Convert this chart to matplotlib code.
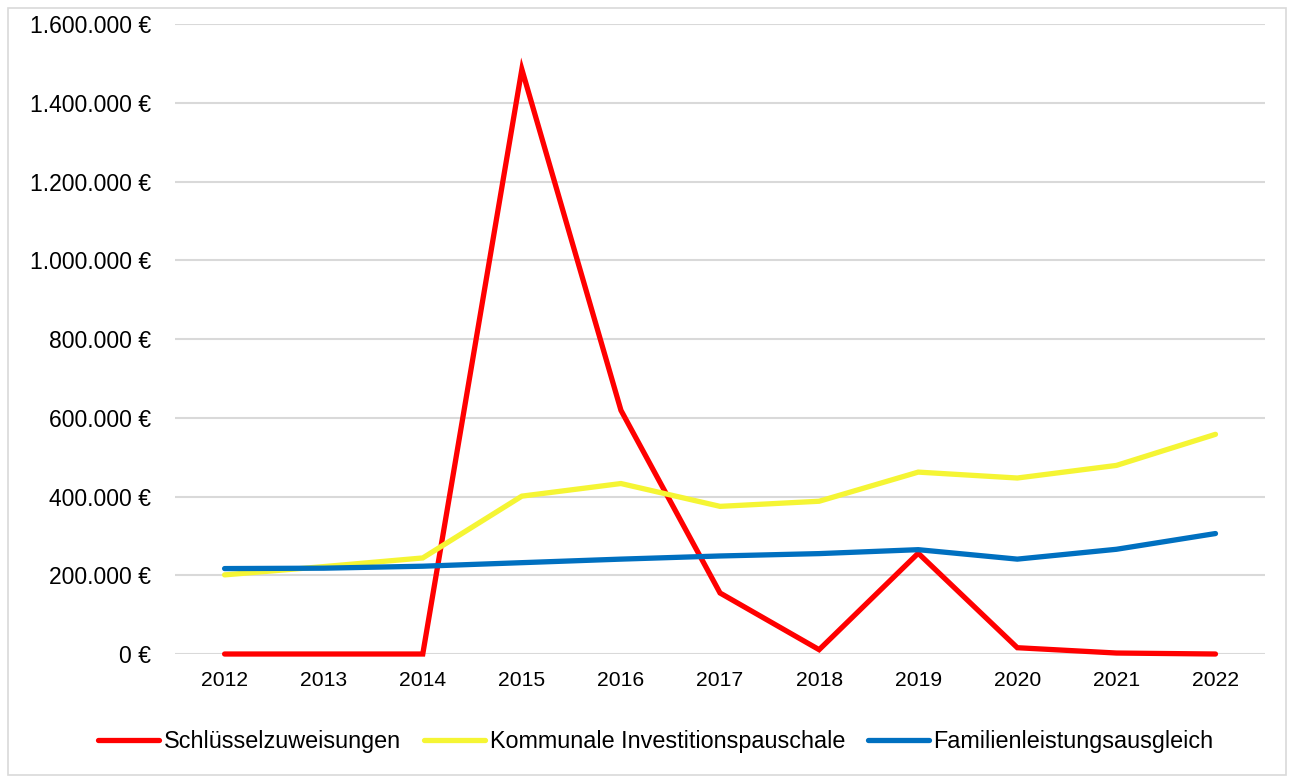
import matplotlib.pyplot as plt
from matplotlib.patches import Rectangle
from matplotlib.ticker import FuncFormatter

plt.rcParams['font.family'] = ['Liberation Sans', 'DejaVu Sans']

# Jahre
years = ["2012", "2013", "2014", "2015", "2016", "2017", "2018", "2019", "2020", "2021", "2022"]

# Zuweisungen in Euro
schluesselzuweisungen = [0, 0, 0, 1485000, 619000, 155000, 11000, 256000, 16000, 2500, 0]
investitionspauschale = [201000, 222000, 244000, 401000, 433000, 375000, 388000, 462000, 447000, 479000, 558000]
familienleistung = [217000, 218000, 223000, 232000, 241000, 249000, 255000, 265000, 241000, 266000, 306000]

series = [
    ("Schlüsselzuweisungen", schluesselzuweisungen, "#ff0000"),
    ("Kommunale Investitionspauschale", investitionspauschale, "#f5f534"),
    ("Familienleistungsausgleich", familienleistung, "#0070c0"),
]

fig = plt.figure(figsize=(12.89, 7.76), dpi=100)
ax = fig.add_axes([0.1358, 0.1572, 0.8456, 0.8118])

x = list(range(len(years)))
for name, vals, col in series:
    ax.plot(x, vals, color=col, linewidth=3.8, label=name, clip_on=False,
            solid_capstyle='round', solid_joinstyle='miter')

ax.set_xlim(-0.5, len(years) - 0.5)
ax.set_ylim(0, 1600000)
ax.set_yticks(range(0, 1600001, 200000))
ax.yaxis.set_major_formatter(FuncFormatter(lambda v, p: f"{int(v):,}".replace(",", ".") + " €"))
ax.set_xticks(x)
ax.set_xticklabels(years)

ax.grid(axis='y', color='#d9d9d9', linewidth=1.5)
ax.set_axisbelow(True)
for s in ax.spines.values():
    s.set_visible(False)
ax.tick_params(axis='both', length=0, colors='#000000')
ax.tick_params(axis='y', pad=17, labelsize=16.5)
ax.tick_params(axis='x', pad=12, labelsize=15.2)

fig.legend(loc='center', bbox_to_anchor=(0.509, 0.044), ncol=3, frameon=False,
           fontsize=16.8, handlelength=2.6, handletextpad=0.2, columnspacing=1.0)

# Rahmen um das Diagramm
fig.patches.append(Rectangle((0.006, 0.001), 0.992, 0.989, transform=fig.transFigure,
                             fill=False, edgecolor='#d9d9d9', linewidth=1.2))

fig.savefig("out.png", dpi=100)
